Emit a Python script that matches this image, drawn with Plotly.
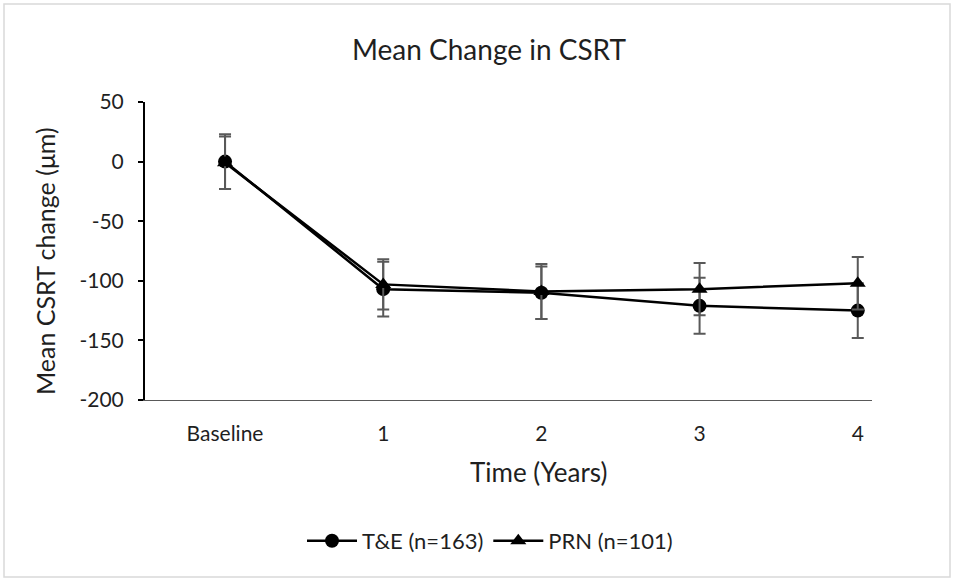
import plotly.graph_objects as go

categories = ["Baseline", "1", "2", "3", "4"]
te_mean = [0, -107, -110, -121, -125]
te_err = [23, 23, 22, 23.5, 23]
prn_mean = [-1, -103, -109, -107, -102]
prn_err = [22, 21, 23, 22, 22]
y_ticks = [50, 0, -50, -100, -150, -200]
y_ticktext = [str(v) for v in y_ticks]

W, H = 955, 579
L, R, T, B = 145, 83, 102, 179
pw, ph = W - L - R, H - T - B

xpos = list(range(len(categories)))
FONT = "Lato, 'Open Sans', sans-serif"
TXT = "#1f1f1f"

fig = go.Figure()
fig.add_trace(go.Scatter(
    x=xpos, y=te_mean, mode="lines+markers", name="T&E (n=163)",
    line=dict(color="black", width=2.5),
    marker=dict(symbol="circle", size=14, color="black"),
    error_y=dict(type="data", array=te_err, visible=True, color="#595959", thickness=2, width=6),
))
fig.add_trace(go.Scatter(
    x=xpos, y=prn_mean, mode="lines+markers", name="PRN (n=101)",
    line=dict(color="black", width=2.5),
    marker=dict(symbol="triangle-up", size=14, color="black"),
    error_y=dict(type="data", array=prn_err, visible=True, color="#595959", thickness=2, width=6),
))

def px2x(px):
    return (px - L) / pw

def py2y(py):
    return (H - B - py) / ph

fig.update_layout(
    width=W, height=H,
    margin=dict(l=L, r=R, t=T, b=B),
    paper_bgcolor="white", plot_bgcolor="white",
    font=dict(family=FONT, color=TXT),
    title=dict(text="Mean Change in CSRT", x=489 / W, xanchor="center",
               y=1 - 50 / H, yanchor="middle", yref="container",
               font=dict(size=28, color=TXT, family=FONT)),
    xaxis=dict(
        range=[-0.506, 4.09], tickmode="array", tickvals=xpos, ticktext=categories,
        showgrid=False, zeroline=False, showline=True, linecolor="#595959", linewidth=1.2,
        ticks="", tickfont=dict(size=21, color=TXT), ticklabelstandoff=15,
    ),
    yaxis=dict(
        range=[-200, 50], tickmode="array", tickvals=y_ticks, ticktext=y_ticktext,
        showgrid=False, zeroline=False, showline=True, linecolor="black", linewidth=2,
        ticks="outside", ticklen=5, tickwidth=2, tickcolor="black",
        ticklabelstandoff=10,
        tickfont=dict(size=21, color=TXT),
    ),
    legend=dict(orientation="h", x=px2x(490), xanchor="center", y=py2y(541), yanchor="middle",
                font=dict(size=22, color=TXT), itemwidth=50, traceorder="normal",
                bgcolor="rgba(0,0,0,0)"),
    showlegend=True,
    annotations=[
        dict(text="Time (Years)", xref="paper", yref="paper", x=px2x(538), y=py2y(472),
             xanchor="center", yanchor="middle", showarrow=False,
             font=dict(size=26, color=TXT, family=FONT)),
        dict(text="Mean CSRT change (μm)", xref="paper", yref="paper", x=px2x(45), y=py2y(261),
             xanchor="center", yanchor="middle", showarrow=False, textangle=-90,
             font=dict(size=25, color=TXT, family=FONT)),
    ],
    shapes=[dict(type="rect", xref="paper", yref="paper",
                 x0=px2x(4), x1=px2x(950), y0=py2y(577), y1=py2y(4),
                 line=dict(color="#d9d9d9", width=1.5), fillcolor="rgba(0,0,0,0)", layer="below")],
)

fig.write_html("out.html")
